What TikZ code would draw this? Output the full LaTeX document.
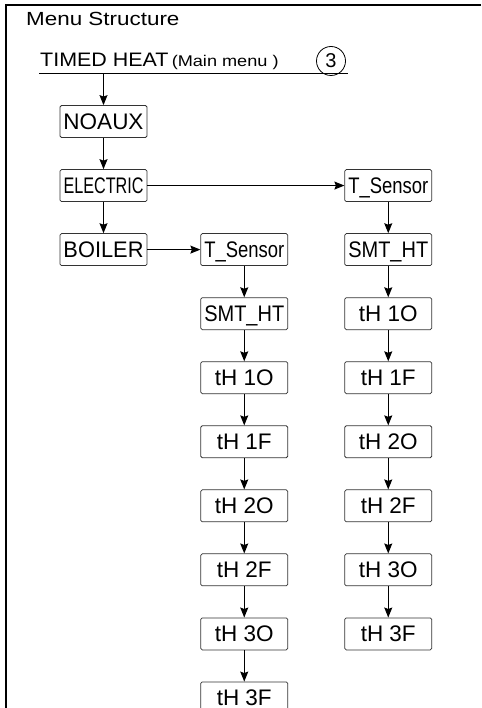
\documentclass[tikz,border=0pt]{standalone}
\usepackage{fontspec}
\usepackage{graphicx}
\setmainfont{Liberation Sans}
\usetikzlibrary{positioning,arrows.meta}
% squeeze long labels into the box
\newcommand{\fitlabel}[1]{\sbox0{#1}\ifdim\wd0>80pt\resizebox{80pt}{\height}{#1}\else#1\fi}
\tikzset{
  menubox/.style={draw=black!80, line width=0.75pt, rounded corners=1.5pt,
    minimum width=87pt, minimum height=32pt, inner sep=2pt,
    font=\fontsize{22.5}{22.5}\selectfont, text height=18pt, text depth=2pt},
  menuarrow/.style={-{Stealth[length=10pt,width=8pt,inset=1.5pt]}, line width=1.1pt}
}
\begin{document}
\begin{tikzpicture}[x=1pt, y=-1pt, node distance=31.3pt]
    \useasboundingbox (0,0) rectangle (481,708);
    % Rahmen
    \draw[line width=2pt] (481,5) -- (6,5) -- (6,708);
    \node[anchor=base west, inner sep=0, font=\fontsize{19}{19}\selectfont] (title) at (26,26) {\scalebox{1.18}[1]{Menu Structure}};
    % Hauptmenue
    \node[anchor=base west, inner sep=0] (mainmenu) at (40,66.5)
      {\fontsize{19.5}{19.5}\selectfont\scalebox{1.1}[1]{TIMED HEAT}\,{\fontsize{15.5}{15.5}\selectfont\scalebox{1.17}[1]{(Main menu )}}};
    \node[draw, circle, line width=0.8pt, minimum size=29pt, inner sep=0, font=\fontsize{20}{20}\selectfont] (num) at (331,61) {3};
    \coordinate (lineL) at (39,73.5);
    \coordinate (lineR) at (348,73.5);
    \coordinate (tap) at (103.5,73.5);
    \draw[line width=1.6pt] (lineL) -- (lineR);
    % linke Spalte
    \node[menubox] (noaux) at (103.5,121.5) {\fitlabel{NOAUX}};
    \node[menubox, below=of noaux] (electric) {\fitlabel{ELECTRIC}};
    \node[menubox, below=of electric] (boiler) {\fitlabel{BOILER}};
    \draw[menuarrow] (tap) -- (noaux);
    \draw[menuarrow] (noaux) -- (electric);
    \draw[menuarrow] (electric) -- (boiler);
    % ELECTRIC
    \node[menubox, right=197pt of electric] (sensR) {\fitlabel{T\_Sensor}};
    \draw[menuarrow] (electric) -- (sensR);
    \foreach \name/\txt [remember=\name as \prev (initially sensR)] in
      {smtR/SMT\_HT, thaR/tH 1O, thbR/tH 1F, thcR/tH 2O, thdR/tH 2F, theR/tH 3O, thfR/tH 3F}
    {
      \node[menubox, below=of \prev] (\name) {\fitlabel{\txt}};
      \draw[menuarrow] (\prev) -- (\name);
    }
    % BOILER
    \node[menubox, right=53pt of boiler] (sensB) {\fitlabel{T\_Sensor}};
    \draw[menuarrow] (boiler) -- (sensB);
    \foreach \name/\txt [remember=\name as \prev (initially sensB)] in
      {smtB/SMT\_HT, thaB/tH 1O, thbB/tH 1F, thcB/tH 2O, thdB/tH 2F, theB/tH 3O, thfB/tH 3F}
    {
      \node[menubox, below=of \prev] (\name) {\fitlabel{\txt}};
      \draw[menuarrow] (\prev) -- (\name);
    }
\end{tikzpicture}
\end{document}
